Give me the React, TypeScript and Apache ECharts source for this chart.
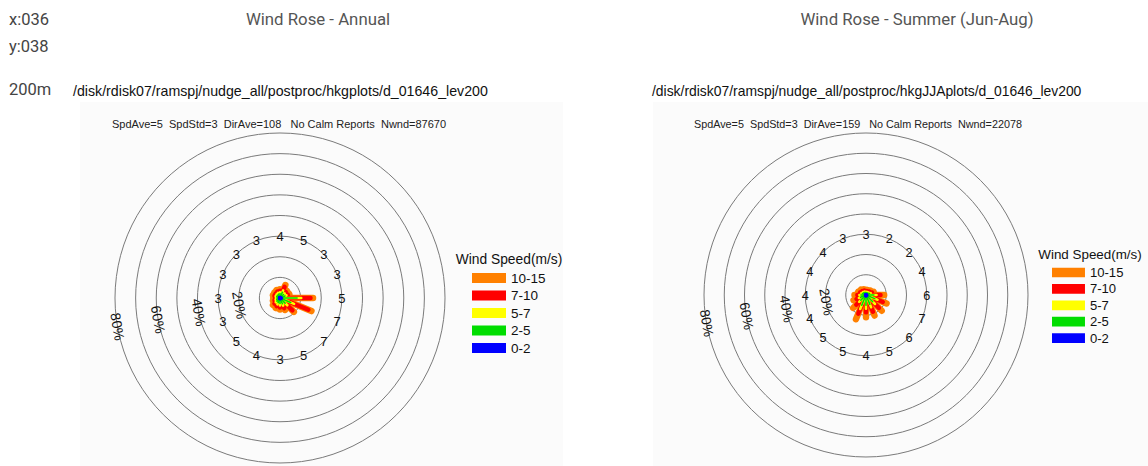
import React, { useEffect, useRef } from 'react';
import * as echarts from 'echarts';

// ---------- data ----------
const DIRECTIONS = ['N', 'NNE', 'NE', 'ENE', 'E', 'ESE', 'SE', 'SSE', 'S', 'SSW', 'SW', 'WSW', 'W', 'WNW', 'NW', 'NNW'];
const SPEED_CLASSES = ['0-2', '2-5', '5-7', '7-10', '10-15'];
const RING_TICKS = [20, 40, 60, 80];

// Annual: frequency (%) per direction for each speed class
const annual_0_2 = [0.3, 0.4, 0.4, 0.4, 0.8, 0.6, 0.5, 0.4, 0.4, 0.4, 0.3, 0.3, 0.3, 0.3, 0.3, 0.3];
const annual_2_5 = [1.8, 2.6, 2.0, 2.2, 7.5, 5.0, 3.0, 2.6, 2.3, 2.0, 1.8, 1.4, 1.2, 1.4, 1.5, 1.7];
const annual_5_7 = [0.7, 1.0, 0.8, 0.8, 2.0, 1.8, 1.5, 1.0, 0.9, 0.9, 0.8, 0.6, 0.5, 0.6, 0.6, 0.7];
const annual_7_10 = [0.7, 1.8, 0.8, 0.7, 4.5, 7.5, 3.5, 1.3, 1.0, 1.0, 0.9, 0.6, 0.5, 0.6, 0.6, 0.7];
const annual_10_15 = [0.8, 1.0, 0.8, 0.8, 1.2, 1.6, 1.0, 1.0, 1.0, 1.0, 1.0, 0.8, 0.8, 0.8, 0.8, 0.8];
const annualMeanSpeed = [4, 5, 3, 3, 5, 7, 7, 5, 3, 4, 5, 3, 3, 3, 3, 3];

// Summer (Jun-Aug)
const summer_0_2 = [0.2, 0.2, 0.2, 0.3, 0.4, 0.5, 0.5, 0.5, 0.5, 0.5, 0.4, 0.3, 0.3, 0.3, 0.2, 0.2];
const summer_2_5 = [1.0, 1.0, 1.2, 1.6, 3.5, 4.2, 4.2, 4.5, 4.5, 5.0, 3.2, 2.6, 2.2, 1.6, 1.4, 1.2];
const summer_5_7 = [0.4, 0.4, 0.5, 0.6, 1.3, 1.5, 1.6, 1.6, 1.8, 2.0, 1.2, 0.9, 0.8, 0.6, 0.5, 0.5];
const summer_7_10 = [0.4, 0.4, 0.5, 0.7, 2.0, 2.8, 2.7, 2.4, 1.8, 2.5, 2.0, 1.3, 1.0, 0.7, 0.6, 0.5];
const summer_10_15 = [0.6, 0.6, 0.7, 0.9, 1.8, 2.0, 2.0, 2.0, 2.4, 3.0, 2.2, 1.6, 1.4, 1.0, 1.0, 0.7];
const summerMeanSpeed = [3, 2, 2, 4, 6, 7, 6, 5, 4, 5, 5, 4, 4, 4, 4, 3];

const annualStats = 'SpdAve=5  SpdStd=3  DirAve=108   No Calm Reports  Nwnd=87670';
const summerStats = 'SpdAve=5  SpdStd=3  DirAve=159   No Calm Reports  Nwnd=22078';
const annualPath = '/disk/rdisk07/ramspj/nudge_all/postproc/hkgplots/d_01646_lev200';
const summerPath = '/disk/rdisk07/ramspj/nudge_all/postproc/hkgJJAplots/d_01646_lev200';

// ---------- styles ----------
const CLASS_COLORS = ['#0000ff', '#00dd00', '#ffff00', '#ff0000', '#ff8000'];
const CLASS_WIDTHS = [3, 1.6, 2.6, 4.5, 6.5];
const NCL_FONT = '"Liberation Sans", Arial, Helvetica, sans-serif';
const PAGE_FONT = 'Roboto, "Noto Sans", sans-serif';
const LABEL_ANGLE = 260; // compass degrees where ring labels sit
const NUMBER_RING = 30; // % ring on which mean speeds are written

function cumulative(classes: number[][]): number[][] {
  const out: number[][] = [];
  classes.forEach((arr, k) => {
    out.push(arr.map((v, d) => (k === 0 ? v : out[k - 1][d] + v)));
  });
  return out;
}

function buildPanelSeries(polarIndex: number, classes: number[][], speeds: number[], scale: number) {
  const cum = cumulative(classes);
  const series: any[] = [];
  for (let k = SPEED_CLASSES.length - 1; k >= 0; k--) {
    const width = CLASS_WIDTHS[k] * scale;
    const color = CLASS_COLORS[k];
    series.push({
      type: 'custom',
      name: SPEED_CLASSES[k],
      coordinateSystem: 'polar',
      polarIndex,
      z: 10 + (SPEED_CLASSES.length - 1 - k),
      itemStyle: { color },
      encode: { radius: 0, angle: 1 },
      silent: true,
      data: DIRECTIONS.map((_, d) => [cum[k][d], d * (360 / DIRECTIONS.length)]),
      renderItem: (params: any, api: any) => {
        const r = api.value(0);
        const a = api.value(1);
        const p0 = api.coord([0, a]);
        const p1 = api.coord([r, a]);
        return {
          type: 'line',
          shape: { x1: p0[0], y1: p0[1], x2: p1[0], y2: p1[1] },
          style: { stroke: color, lineWidth: width, lineCap: 'round' },
        };
      },
    });
  }
  // mean speed numbers
  series.push({
    type: 'custom',
    name: 'mean speed',
    coordinateSystem: 'polar',
    polarIndex,
    z: 20,
    silent: true,
    encode: { radius: 0, angle: 1 },
    data: DIRECTIONS.map((_, d) => [NUMBER_RING, d * (360 / DIRECTIONS.length), speeds[d]]),
    renderItem: (params: any, api: any) => {
      const p = api.coord([api.value(0), api.value(1)]);
      return {
        type: 'text',
        x: p[0],
        y: p[1],
        style: {
          text: String(api.value(2)),
          fill: '#111',
          fontSize: 13 * scale,
          fontFamily: NCL_FONT,
          align: 'center',
          verticalAlign: 'middle',
        },
      };
    },
  });
  // ring percentage labels
  series.push({
    type: 'custom',
    name: 'ring labels',
    coordinateSystem: 'polar',
    polarIndex,
    z: 20,
    silent: true,
    encode: { radius: 0, angle: 1 },
    data: RING_TICKS.map((v) => [v, LABEL_ANGLE]),
    renderItem: (params: any, api: any) => {
      const p = api.coord([api.value(0), api.value(1)]);
      return {
        type: 'text',
        x: p[0],
        y: p[1],
        rotation: ((180 - api.value(1)) * Math.PI) / 180,
        style: {
          text: api.value(0) + '%',
          fill: '#111',
          fontSize: 14 * scale,
          fontFamily: NCL_FONT,
          align: 'center',
          verticalAlign: 'middle',
        },
      };
    },
  });
  return series;
}

function polarAxes(polarIndex: number) {
  return {
    angle: {
      polarIndex,
      type: 'value',
      min: 0,
      max: 360,
      startAngle: 90,
      clockwise: true,
      axisLine: { show: false },
      axisTick: { show: false },
      axisLabel: { show: false },
      splitLine: { show: false },
    },
    radius: {
      polarIndex,
      type: 'value',
      min: 0,
      max: 80,
      interval: 10,
      axisLine: { show: false },
      axisTick: { show: false },
      axisLabel: { show: false },
      splitLine: { show: true, lineStyle: { color: '#7a7a7a', width: 1 } },
    },
  };
}

function legendFor(left: number, top: number, scale: number) {
  return {
    data: [...SPEED_CLASSES].reverse(),
    orient: 'vertical',
    left,
    top,
    icon: 'rect',
    itemWidth: 34 * scale,
    itemHeight: 10 * scale,
    itemGap: 3.5 * scale,
    selectedMode: false,
    padding: 0,
    textStyle: { fontSize: 13.5 * scale, fontFamily: NCL_FONT, color: '#111', lineHeight: 10 * scale },
  };
}

function text(x: number, y: number, t: string, size: number, font: string, fill: string, align = 'left') {
  return {
    type: 'text',
    x,
    y,
    silent: true,
    style: { text: t, fontSize: size, fontFamily: font, fill, align, verticalAlign: 'middle' },
  };
}

export default function App() {
  const ref = useRef<HTMLDivElement>(null);
  useEffect(() => {
    if (!ref.current) return;
    const chart = echarts.init(ref.current, undefined, { renderer: 'svg' });
    const a0 = polarAxes(0);
    const a1 = polarAxes(1);
    const option: any = {
      animation: false,
      backgroundColor: '#ffffff',
      polar: [
        { center: [280, 298], radius: 165 },
        { center: [866, 295], radius: 162 },
      ],
      angleAxis: [a0.angle, a1.angle],
      radiusAxis: [a0.radius, a1.radius],
      legend: [legendFor(472, 271, 1), legendFor(1052, 266, 0.97)],
      graphic: [
        { type: 'rect', z: -10, silent: true, shape: { x: 80, y: 102, width: 483, height: 364 }, style: { fill: '#fbfbfb' } },
        { type: 'rect', z: -10, silent: true, shape: { x: 653, y: 102, width: 495, height: 364 }, style: { fill: '#fbfbfb' } },
        text(9, 19, 'x:036', 16.5, PAGE_FONT, '#444'),
        text(9, 46, 'y:038', 16.5, PAGE_FONT, '#444'),
        text(9, 89, '200m', 16.5, PAGE_FONT, '#444'),
        text(318, 19, 'Wind Rose - Annual', 16.8, PAGE_FONT, '#555', 'center'),
        text(917, 19, 'Wind Rose - Summer (Jun-Aug)', 16.8, PAGE_FONT, '#555', 'center'),
        text(73, 91, annualPath, 14.2, NCL_FONT, '#111'),
        text(652, 91, summerPath, 13.9, NCL_FONT, '#111'),
        text(112, 124, annualStats, 11, NCL_FONT, '#222'),
        text(694, 124, summerStats, 10.8, NCL_FONT, '#222'),
        text(509, 259, 'Wind Speed(m/s)', 13.8, NCL_FONT, '#111', 'center'),
        text(1090, 254, 'Wind Speed(m/s)', 13.4, NCL_FONT, '#111', 'center'),
      ],
      series: [
        ...buildPanelSeries(0, [annual_0_2, annual_2_5, annual_5_7, annual_7_10, annual_10_15], annualMeanSpeed, 1),
        ...buildPanelSeries(1, [summer_0_2, summer_2_5, summer_5_7, summer_7_10, summer_10_15], summerMeanSpeed, 0.98),
      ],
    };
    chart.setOption(option);
    return () => chart.dispose();
  }, []);
  return (
    <div
      ref={ref}
      style={{ position: 'fixed', left: 0, top: 0, width: 1148, height: 466, background: '#fff' }}
    />
  );
}
